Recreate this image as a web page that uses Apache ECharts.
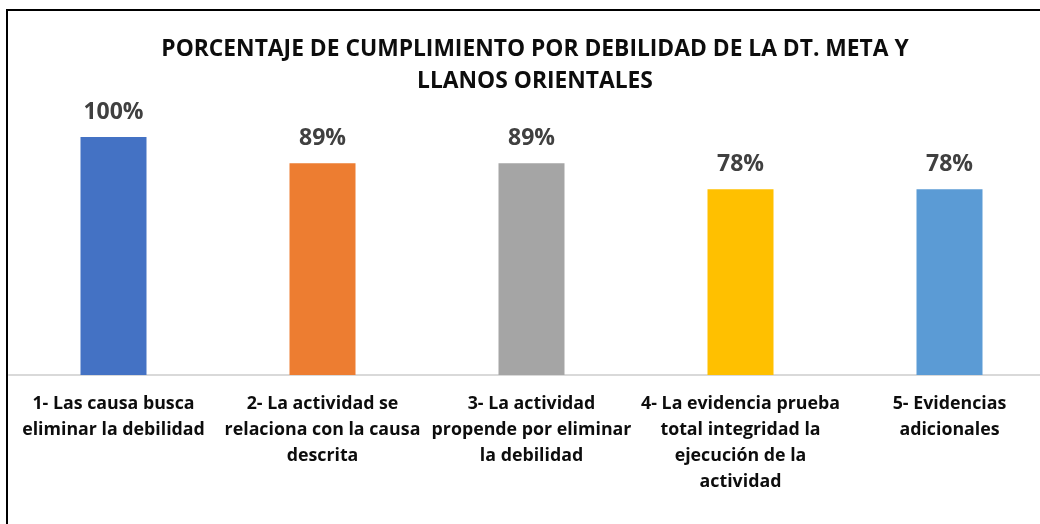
<!DOCTYPE html>
<html>
<head>
<meta charset="utf-8">
<script src="https://cdn.jsdelivr.net/npm/echarts@6/dist/echarts.min.js"></script>
<style>
  html, body { margin: 0; padding: 0; background: #fff; }
  #chart { width: 1040px; height: 524px; }
</style>
</head>
<body>
<div id="chart"></div>
<script>
const categories = [
  '1- Las causa busca\neliminar la debilidad',
  '2- La actividad se\nrelaciona con la causa\ndescrita',
  '3- La actividad\npropende por eliminar\nla debilidad',
  '4- La evidencia prueba\ntotal integridad la\nejecución de la\nactividad',
  '5- Evidencias\nadicionales'
];
const values = [100, 89, 89, 78, 78];
const colors = ['#4472C4', '#ED7D31', '#A5A5A5', '#FFC000', '#5B9BD5'];

const chart = echarts.init(document.getElementById('chart'));
const font = '"Open Sans", Lato, sans-serif';

chart.setOption({
  animation: false,
  title: {
    text: 'PORCENTAJE DE CUMPLIMIENTO POR DEBILIDAD DE LA DT. META Y\nLLANOS ORIENTALES',
    left: 530,
    textAlign: 'center',
    top: 29,
    textStyle: { fontFamily: font, fontWeight: 'bold', fontSize: 22.8, lineHeight: 32, color: '#0d0d0d' }
  },
  graphic: [{
    type: 'rect',
    shape: { x: 7, y: 10, width: 1060, height: 540 },
    style: { fill: null, stroke: '#000', lineWidth: 2 },
    silent: true
  }],
  grid: { left: 9, width: 1045, top: 137, bottom: 149, containLabel: false, outerBoundsMode: 'none' },
  xAxis: {
    type: 'category',
    data: categories,
    axisLine: { lineStyle: { color: '#d9d9d9', width: 2 } },
    axisTick: { show: false },
    axisLabel: {
      interval: 0, margin: 16,
      fontFamily: font, fontWeight: 'bold', fontSize: 17.8, lineHeight: 26, color: '#0d0d0d'
    }
  },
  yAxis: { type: 'value', min: 0, max: 100, show: false, splitLine: { show: false } },
  series: [{
    type: 'bar',
    barWidth: 66,
    data: values.map((v, i) => ({ value: v, itemStyle: { color: colors[i] } })),
    label: {
      show: true, position: 'top', distance: 13,
      formatter: p => p.value + '%',
      fontFamily: font, fontWeight: 'bold', fontSize: 23, color: '#404040'
    }
  }]
});
</script>
</body>
</html>
